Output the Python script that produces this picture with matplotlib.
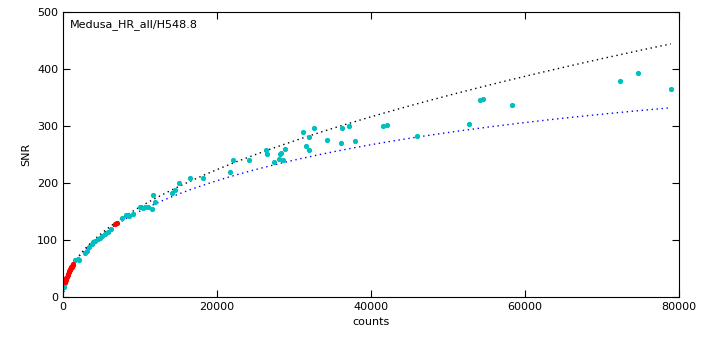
import numpy as np
import matplotlib
matplotlib.use("Agg")
import matplotlib.pyplot as plt

# cyan points: counts, SNR
counts_c = [150, 250, 1560, 1990, 2080, 2860, 3080, 3380, 3730, 3935, 4150, 4500,
            4800, 5030, 5450, 5880, 6230, 7700, 8180, 8440, 8610, 9130, 10000,
            10350, 10650, 11000, 11520, 11950, 11650, 14120, 14550, 15060, 16450,
            18140, 21690, 22040, 24160, 26320, 26490, 27400, 28050, 28310, 28180,
            28530, 28790, 31130, 31560, 31950, 31950, 32600, 34250, 36100, 36230,
            37100, 37880, 41520, 42040, 45935, 52730, 54160, 54510, 58270, 72300,
            74640, 78920]
snr_c = [18, 24, 65, 67, 65, 77, 81, 88, 92.5, 96, 98, 102,
         104, 107.5, 110, 114.5, 119, 138.6, 143, 144, 141.6, 146, 158,
         156, 158, 158, 154, 167, 179.5, 182.5, 188, 200.5, 209,
         209, 220, 240, 240, 257, 251, 236, 242, 253, 251,
         240, 260, 289, 264, 258, 281, 297, 275, 270, 296,
         300, 274, 300.5, 302, 283, 304, 346, 347, 336, 379,
         393, 365]

# red points
counts_r = [300, 380, 450, 520, 600, 680, 760, 840, 900, 960, 1020, 1080, 1140,
            1200, 1260, 1320, 6800, 6950]
snr_r = [27, 30, 33, 35, 38, 41, 43, 45, 47, 49, 50, 52, 53, 55, 56, 57, 128, 130]

# model curves: SNR = A*sqrt(N) / sqrt(1 + C*N)
A_POISSON = 1.58
C_NOISE = 1.0e-5

fig = plt.figure(figsize=(7.24, 3.49), dpi=100)
ax = fig.add_axes([0.087, 0.149, 0.851, 0.817])

n = np.linspace(0, max(counts_c), 400)
dots = (0, (1, 2.6))
ax.plot(n, A_POISSON * np.sqrt(n), linestyle=dots, color="black", lw=1)
ax.plot(n, A_POISSON * np.sqrt(n) / np.sqrt(1 + C_NOISE * n), linestyle=dots,
        color="blue", lw=1)

ax.plot(counts_c, snr_c, ".", color="#00bfbf", ms=5.5)
ax.plot(counts_r, snr_r, ".", color="red", ms=5.5)

ax.set_xlim(0, 80000)
ax.set_ylim(0, 500)
ax.set_xticks([0, 20000, 40000, 60000, 80000])
ax.set_yticks([0, 100, 200, 300, 400, 500])
ax.tick_params(direction="in", top=True, right=True, labelsize=8, length=5)
ax.set_xlabel("counts", fontsize=8)
ax.set_ylabel("SNR", fontsize=8)
ax.text(0.011, 0.975, "Medusa_HR_all/H548.8", transform=ax.transAxes,
        ha="left", va="top", fontsize=8)

fig.savefig("out.png", dpi=100)
